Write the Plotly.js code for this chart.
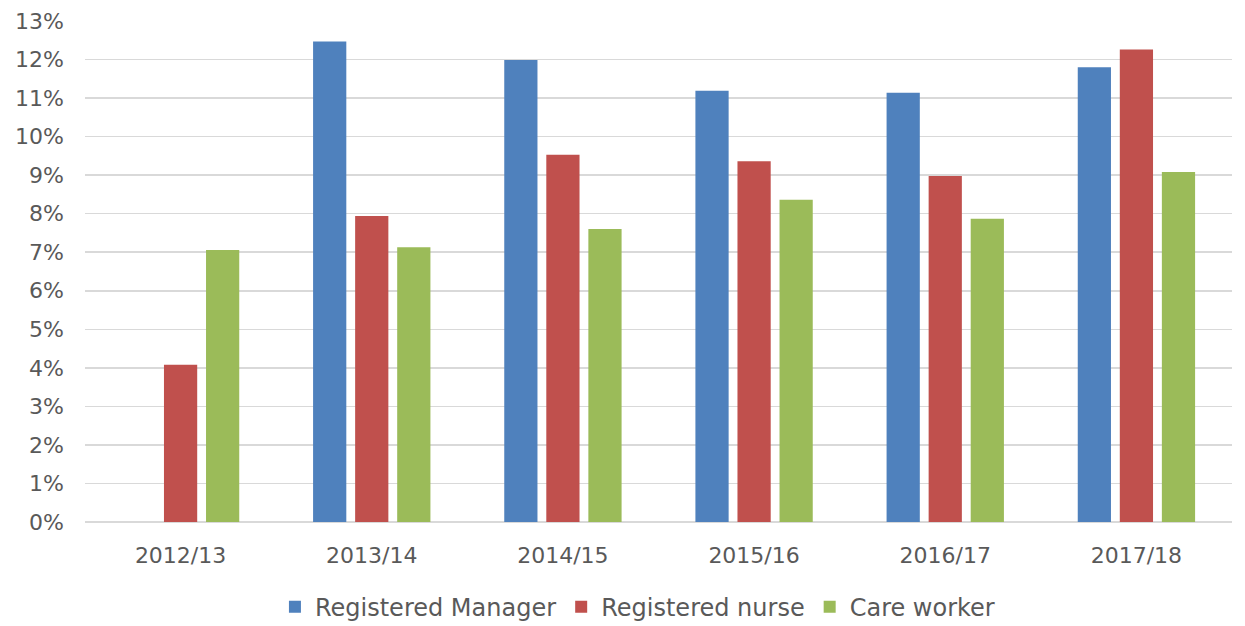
<!DOCTYPE html>
<html>
<head>
<meta charset="utf-8">
<script src="https://cdn.plot.ly/plotly-3.0.1.min.js"></script>
<style>html,body{margin:0;padding:0;background:#fff;}#chart{width:1245px;height:626px;}</style>
</head>
<body>
<div id="chart"></div>
<script>
const years = ["2012/13", "2013/14", "2014/15", "2015/16", "2016/17", "2017/18"];
const registeredManager = [null, 0.1247, 0.1199, 0.1119, 0.1114, 0.1180];
const registeredNurse = [0.0408, 0.0794, 0.0953, 0.0936, 0.0898, 0.1226];
const careWorker = [0.0706, 0.0713, 0.0760, 0.0836, 0.0787, 0.0908];
const tickVals = [0,0.01,0.02,0.03,0.04,0.05,0.06,0.07,0.08,0.09,0.10,0.11,0.12,0.13];

const traces = [
  {name: "Registered Manager", x: years, y: registeredManager, type: "bar", marker: {color: "#4f81bd"}},
  {name: "Registered nurse", x: years, y: registeredNurse, type: "bar", marker: {color: "#c0504d"}},
  {name: "Care worker", x: years, y: careWorker, type: "bar", marker: {color: "#9bbb59"}}
];

const font = {family: "DejaVu Sans, Liberation Sans, Arial, sans-serif", size: 22, color: "#595959"};
const legendFont = {family: "DejaVu Sans, Liberation Sans, Arial, sans-serif", size: 24, color: "#595959"};
const layout = {
  width: 1245, height: 626,
  margin: {l: 85, r: 13, t: 21, b: 104, autoexpand: false},
  paper_bgcolor: "#fff", plot_bgcolor: "#fff",
  font: font,
  barmode: "group", bargap: 0.34, bargroupgap: 0.21,
  showlegend: true,
  legend: {orientation: "h", x: 0.512, xanchor: "center", xref: "container", yref: "container", y: 0.030, yanchor: "middle", font: legendFont, itemwidth: 30, traceorder: "normal"},
  xaxis: {type: "category", automargin: false, showgrid: false, zeroline: false, showline: false, ticks: "", tickfont: font, ticklabelstandoff: 18},
  yaxis: {range: [0, 0.13], automargin: false, tickvals: tickVals, tickformat: ".0%", showgrid: true, gridcolor: "#d9d9d9", gridwidth: 1.5,
          zeroline: true, zerolinecolor: "#d9d9d9", zerolinewidth: 1.5, showline: false, ticks: "", tickfont: font, ticklabelstandoff: 20}
};
Plotly.newPlot("chart", traces, layout, {displayModeBar: false, staticPlot: true});
</script>
</body>
</html>
